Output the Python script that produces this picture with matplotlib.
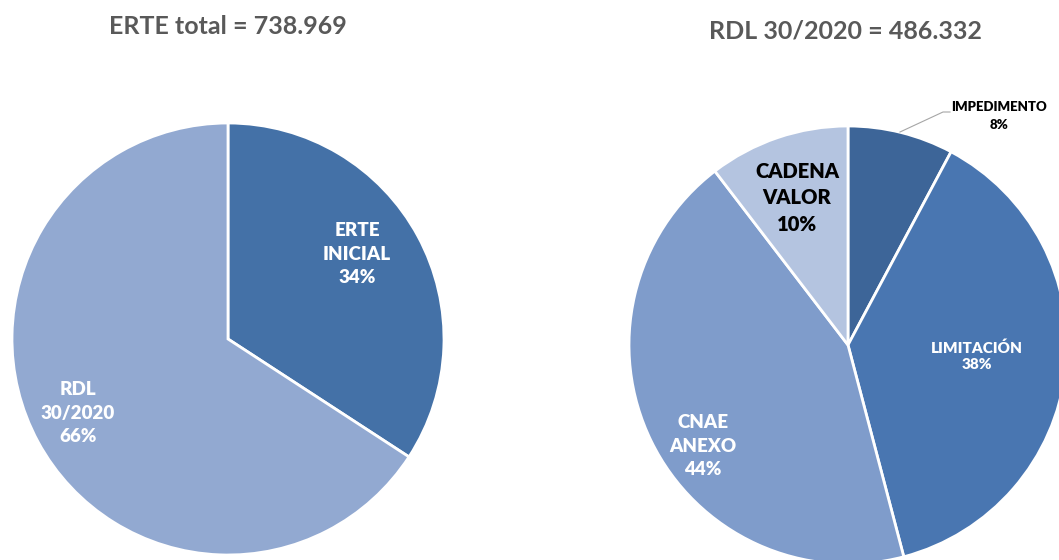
import matplotlib
matplotlib.use("Agg")
import matplotlib.pyplot as plt

# ---- data ----
left_title = "ERTE total = 738.969"
left_categories = ["ERTE\nINICIAL", "RDL\n30/2020"]
left_values = [252637, 486332]

right_title = "RDL 30/2020 = 486.332"
right_categories = ["IMPEDIMENTO", "LIMITACIÓN", "CNAE\nANEXO", "CADENA\nVALOR"]
right_values = [7.8, 38.1, 43.7, 10.4]

# ---- style ----
W, H = 1059, 560
FONT = ["Lato", "DejaVu Sans"]
plt.rcParams['font.family'] = FONT

left_colors = ["#4471A7", "#92A9D1"]
right_colors = ["#3D6598", "#4976B1", "#7F9CCB", "#B4C4E0"]

fig = plt.figure(figsize=(W / 100, H / 100), dpi=100)
ax = fig.add_axes([0, 0, 1, 1])

def Y(y):
    return H - y

wp = dict(edgecolor="white", linewidth=2)
ax.pie(left_values, colors=left_colors, startangle=90, counterclock=False,
       center=(228, Y(339)), radius=216, wedgeprops=wp, frame=True)
ax.pie(right_values, colors=right_colors, startangle=90, counterclock=False,
       center=(848, Y(345)), radius=219, wedgeprops=wp, frame=True)
ax.set_xlim(0, W)
ax.set_ylim(0, H)
ax.set_aspect('equal')
ax.axis('off')

def pct(vals, i):
    return f"{round(100 * vals[i] / sum(vals))}%"

title_kw = dict(fontsize=18, fontweight='bold', color="#595959", ha='center', va='center')
ax.text(228, Y(27), left_title, **title_kw)
ax.text(845, Y(31), right_title, **title_kw)

lab = dict(fontweight='heavy', ha='center', va='center', linespacing=1.45)
ax.text(357, Y(254), f"{left_categories[0]}\n{pct(left_values, 0)}", color="white", fontsize=13.5, **lab)
ax.text(78, Y(413), f"{left_categories[1]}\n{pct(left_values, 1)}", color="white", fontsize=13.5, **lab)

ax.text(797, Y(198), f"{right_categories[3]}\n{pct(right_values, 3)}", color="black", fontsize=14.5, **lab)
ax.text(703, Y(446), f"{right_categories[2]}\n{pct(right_values, 2)}", color="white", fontsize=13.5, **lab)
ax.text(977, Y(356), f"{right_categories[1]}\n{pct(right_values, 1)}", color="white", fontsize=11,
        fontweight='heavy', ha='center', va='center', linespacing=1.3)
ax.text(999, Y(116), f"{right_categories[0]}\n{pct(right_values, 0)}", color="black", fontsize=9.5,
        fontweight='heavy', ha='center', va='center', linespacing=1.55)
ax.plot([900, 943, 950], [Y(132), Y(112), Y(112)], color="#A6A6A6", lw=0.8)

fig.savefig("out.png", dpi=100)
